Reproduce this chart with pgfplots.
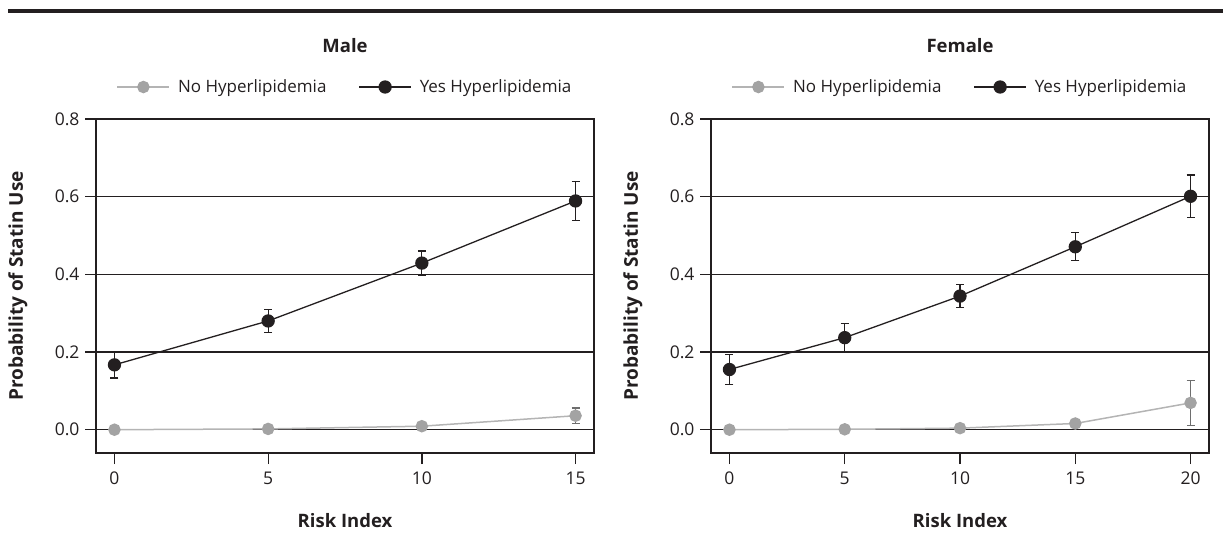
\documentclass[border=0pt]{standalone}
\usepackage{pgfplots}
\pgfplotsset{compat=1.18}
\usepackage{fontspec}
\setmainfont{Open Sans}
\definecolor{dk}{HTML}{231F20}
\definecolor{ltline}{HTML}{B4B4B4}
\definecolor{ltmark}{HTML}{A3A3A3}
\definecolor{ltbar}{HTML}{6E6E6E}
\begin{document}
\begin{tikzpicture}
\useasboundingbox (0,0) rectangle (1223bp,534bp);
\draw[line width=4.5bp, dk] (8bp,523bp) -- (1223bp,523bp);
\pgfplotsset{
  panel/.style={
    scale only axis, width=498bp, height=334bp, anchor=south west,
    ymin=-0.06, ymax=0.8,
    ytick={0,0.2,0.4,0.6,0.8},
    yticklabel style={/pgf/number format/fixed, /pgf/number format/fixed zerofill, /pgf/number format/precision=1, xshift=-2bp},
    /pgf/number format/assume math mode=true,
    axis line style={line width=1.3bp, dk},
    tick align=outside, tick pos=left, major tick length=11bp,
    every tick/.style={line width=1.3bp, dk},
    ymajorgrids, grid style={line width=1.3bp, dk},
    ticklabel style={font=\fontsize{17.5bp}{20bp}\selectfont, text=dk},
    xticklabel style={yshift=-4bp},
    xlabel={Risk Index}, ylabel={Probability of Statin Use},
    label style={font=\bfseries\fontsize{18.5bp}{22bp}\selectfont, text=dk},
    xlabel style={at={(axis description cs:0.5,0)}, anchor=center, yshift=-68bp},
    ylabel style={font=\bfseries\fontsize{19bp}{22bp}\selectfont, at={(axis description cs:0,0.5)}, anchor=center, yshift=78bp},
    title style={font=\bfseries\fontsize{18.5bp}{22bp}\selectfont, text=dk, at={(axis description cs:0.5,1)}, anchor=center, yshift=67bp},
    legend style={draw=none, fill=none, at={(axis description cs:0.5,1)}, anchor=center, yshift=32bp,
      legend columns=2, font=\fontsize{17bp}{20bp}\selectfont, text=dk,
      /tikz/every even column/.append style={column sep=30bp},
      /tikz/every odd column/.append style={column sep=6bp}},
    legend image code/.code={\draw[mark repeat=2,mark phase=2,##1] plot coordinates {(0bp,0bp) (26bp,0bp) (52bp,0bp)};},
    clip=false,
  },
  noser/.style={color=ltline, line width=1.5bp, mark=*, mark size=5.5bp,
    mark options={fill=ltmark, draw=ltmark},
    error bars/.cd, y dir=both, y explicit,
    error bar style={line width=1.2bp, ltbar},
    error mark options={rotate=90, mark size=4bp, line width=1.2bp, ltbar}},
  yesser/.style={color=dk, line width=1.3bp, mark=*, mark size=6bp,
    mark options={fill=dk, draw=dk},
    error bars/.cd, y dir=both, y explicit,
    error bar style={line width=1.2bp, dk},
    error mark options={rotate=90, mark size=4bp, line width=1.2bp, dk}},
}
\begin{axis}[panel, at={(96bp,81bp)}, xmin=-0.6, xmax=15.6, xtick={0,5,10,15}, title={Male}]
\addplot[noser] coordinates {(0,0.000) +- (0,0.002) (5,0.002) +- (0,0.002) (10,0.009) +- (0,0.005) (15,0.036) +- (0,0.020)};
\addlegendentry{No Hyperlipidemia}
\addplot[yesser] coordinates {(0,0.167) +- (0,0.034) (5,0.280) +- (0,0.030) (10,0.429) +- (0,0.031) (15,0.589) +- (0,0.051)};
\addlegendentry{Yes Hyperlipidemia}
\end{axis}
\begin{axis}[panel, at={(711bp,81bp)}, xmin=-0.8, xmax=20.8, xtick={0,5,10,15,20}, title={Female}]
\addplot[noser] coordinates {(0,0.000) +- (0,0.001) (5,0.001) +- (0,0.001) (10,0.004) +- (0,0.003) (15,0.016) +- (0,0.008) (20,0.069) +- (0,0.058)};
\addlegendentry{No Hyperlipidemia}
\addplot[yesser] coordinates {(0,0.155) +- (0,0.039) (5,0.237) +- (0,0.036) (10,0.344) +- (0,0.029) (15,0.471) +- (0,0.036) (20,0.601) +- (0,0.055)};
\addlegendentry{Yes Hyperlipidemia}
\end{axis}
\end{tikzpicture}
\end{document}
